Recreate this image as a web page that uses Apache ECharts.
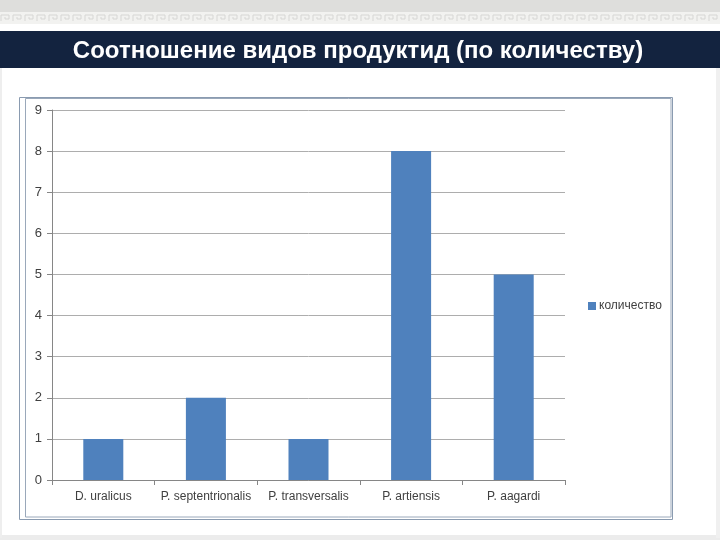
<!DOCTYPE html>
<html>
<head>
<meta charset="utf-8">
<script src="https://cdn.jsdelivr.net/npm/echarts@6/dist/echarts.min.js"></script>
<style>html,body{margin:0;padding:0;background:#fff}#c{width:720px;height:540px}</style>
</head>
<body>
<div id="c"></div>
<script>
const titleText = 'Соотношение видов продуктид (по количеству)';
const categories = ['D. uralicus', 'P. septentrionalis', 'P. transversalis', 'P. artiensis', 'P. aagardi'];
const seriesName = 'количество';
const values = [1, 2, 1, 8, 5];
const yTicks = [0, 1, 2, 3, 4, 5, 6, 7, 8, 9];

const chart = echarts.init(document.getElementById('c'), null, {renderer: 'canvas'});
const font = '"Liberation Sans", Arial, sans-serif';

// decorative meander strip
const meander = [];
for (let x = 0; x < 720; x += 12) {
  meander.push({type: 'polyline', silent: true, shape: {points: [[x+1,21],[x+1,15],[x+9,15],[x+9,19],[x+5,19],[x+5,17]]},
    style: {stroke: '#d6d6d4', lineWidth: 1, fill: null}});
}

chart.setOption({
  animation: false,
  backgroundColor: '#ffffff',
  graphic: [
    {type: 'rect', silent: true, z: -10, shape: {x: 0, y: 0, width: 720, height: 12}, style: {fill: '#dededc'}},
    {type: 'rect', silent: true, z: -10, shape: {x: 0, y: 12, width: 720, height: 12}, style: {fill: '#f2f2f0'}},
    {type: 'group', silent: true, z: -9, children: meander},
    {type: 'rect', silent: true, z: -10, shape: {x: 0, y: 31, width: 720, height: 37}, style: {fill: '#13233f'}},
    {type: 'text', silent: true, z: 10, x: 358, y: 51, style: {text: titleText, fill: '#ffffff', font: 'bold 24px ' + font, align: 'center', verticalAlign: 'middle'}},
    {type: 'rect', silent: true, z: -10, shape: {x: 0, y: 535, width: 720, height: 5}, style: {fill: '#ececec'}},
    {type: 'rect', silent: true, z: -10, shape: {x: 0, y: 68, width: 2, height: 470}, style: {fill: '#eeeeee'}},
    {type: 'rect', silent: true, z: -10, shape: {x: 716, y: 68, width: 4, height: 470}, style: {fill: '#f0f0f0'}},
    {type: 'rect', silent: true, z: -5, shape: {x: 19.5, y: 97.5, width: 653, height: 422}, style: {fill: null, stroke: '#8a9bb0', lineWidth: 1}},
    {type: 'rect', silent: true, z: -5, shape: {x: 25.5, y: 98.5, width: 645.5, height: 418.5}, style: {fill: null, stroke: '#9aa8ba', lineWidth: 1}}
  ],
  legend: {
    orient: 'vertical',
    left: 583, top: 295,
    itemWidth: 8, itemHeight: 8, itemGap: 8,
    icon: 'rect',
    textStyle: {fontFamily: font, fontSize: 12, color: '#404040', padding: [0,0,0,-2]},
    data: [seriesName]
  },
  grid: {left: 52, right: 155, top: 110, bottom: 60, containLabel: false},
  xAxis: {
    type: 'category',
    data: categories,
    axisLine: {lineStyle: {color: '#868686', width: 1}},
    axisTick: {show: true, length: 5, lineStyle: {color: '#868686'}},
    axisLabel: {fontFamily: font, fontSize: 12, color: '#404040', margin: 11, interval: 0}
  },
  yAxis: {
    type: 'value',
    min: 0, max: 9, interval: 1,
    axisLine: {show: true, lineStyle: {color: '#868686', width: 1}},
    axisTick: {show: true, length: 5, lineStyle: {color: '#868686'}},
    axisLabel: {fontFamily: font, fontSize: 13, color: '#404040', margin: 10,
      formatter: v => yTicks.includes(v) ? String(v) : ''},
    splitLine: {lineStyle: {color: '#adadad', width: 1}}
  },
  series: [{
    name: seriesName,
    type: 'bar',
    data: values,
    barWidth: '39%',
    itemStyle: {color: '#4f81bd'}
  }]
});
</script>
</body>
</html>
